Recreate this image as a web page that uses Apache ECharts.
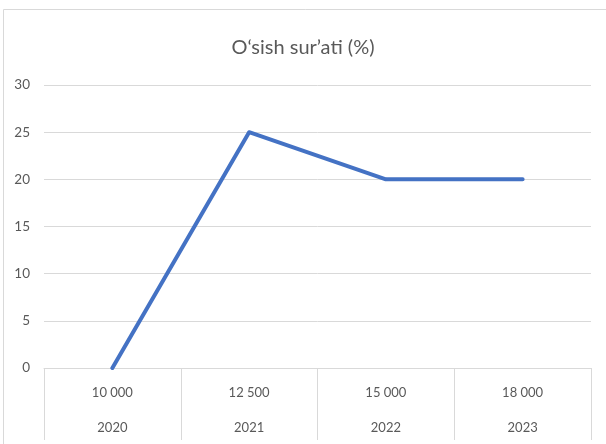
<!DOCTYPE html>
<html>
<head>
<meta charset="utf-8">
<script src="https://cdn.jsdelivr.net/npm/echarts@6/dist/echarts.min.js"></script>
<style>
html,body{margin:0;padding:0;background:#fff;}
#c{width:606px;height:444px;}
</style>
</head>
<body>
<div id="c"></div>
<script>
var titleText = "O‘sish sur’ati (%)";
var amounts = ["10 000", "12 500", "15 000", "18 000"];
var years = ["2020", "2021", "2022", "2023"];
var growth = [0, 25, 20, 20];
var yTicks = {min: 0, max: 30, interval: 5};

var categories = amounts.map(function (a, i) { return a + "\n" + years[i]; });

var chart = echarts.init(document.getElementById('c'), null, {renderer: 'canvas'});
chart.setOption({
  backgroundColor: '#ffffff',
  animation: false,
  graphic: [{
    type: 'rect',
    shape: {x: 3.5, y: 9.5, width: 700, height: 600},
    style: {fill: 'none', stroke: '#d9d9d9', lineWidth: 1}
  }],
  title: {
    text: titleText,
    left: 'center',
    top: 33,
    textStyle: {fontFamily: 'Lato', fontSize: 20, fontWeight: 'normal', color: '#595959'}
  },
  grid: {left: 44, right: 15, top: 85, bottom: 76, containLabel: false, outerBoundsMode: 'none'},
  xAxis: {
    type: 'category',
    data: categories,
    boundaryGap: true,
    axisLine: {show: true, lineStyle: {color: '#d9d9d9', width: 1}},
    axisTick: {show: true, interval: 0, length: 72, lineStyle: {color: '#d9d9d9'}},
    axisLabel: {
      interval: 0,
      margin: 7,
      fontFamily: 'Lato',
      fontSize: 13,
      color: '#595959',
      lineHeight: 35
    },
    splitLine: {show: false}
  },
  yAxis: {
    type: 'value',
    min: yTicks.min,
    max: yTicks.max,
    interval: yTicks.interval,
    axisLine: {show: false},
    axisTick: {show: false},
    axisLabel: {margin: 14, fontFamily: 'Lato', fontSize: 13.5, color: '#595959'},
    splitLine: {show: true, lineStyle: {color: '#d9d9d9', width: 1}}
  },
  series: [{
    type: 'line',
    data: growth,
    symbol: 'none',
    lineStyle: {color: '#4472C4', width: 4, cap: 'round', join: 'round'},
    itemStyle: {color: '#4472C4'}
  }]
});
</script>
</body>
</html>
